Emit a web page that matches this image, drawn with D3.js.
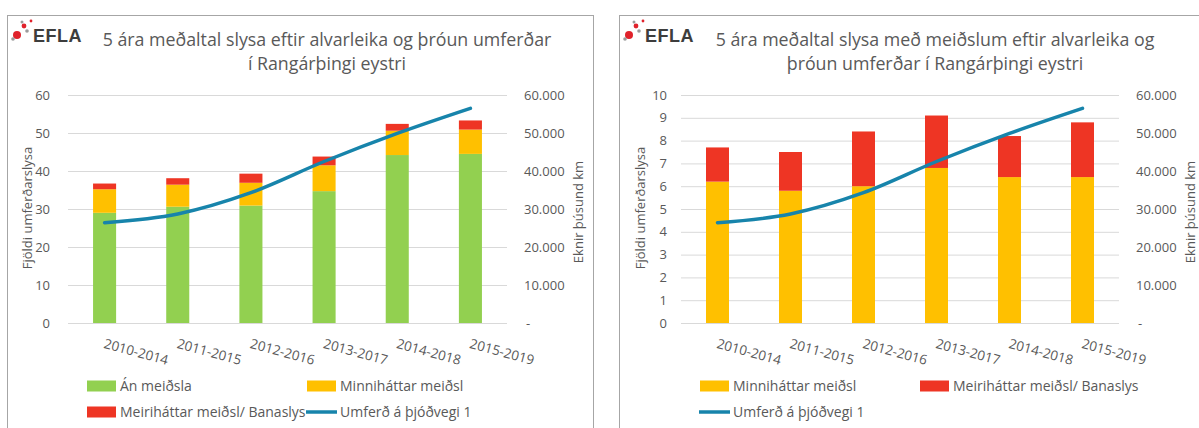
<!DOCTYPE html>
<html>
<head>
<meta charset="utf-8">
<script src="https://cdn.jsdelivr.net/npm/d3@7"></script>
<style>
  body { margin: 0; background: #fff; }
  text { font-family: 'Open Sans', sans-serif; fill: #595959; }
</style>
</head>
<body>
<svg id="chart" width="1199" height="428"></svg>
<script>
// values
const periods = ['2010-2014', '2011-2015', '2012-2016', '2013-2017', '2014-2018', '2015-2019'];
const anMeidsla = [29.0, 30.6, 30.9, 34.7, 44.2, 44.5];
const minnihattar = [6.2, 5.8, 6.0, 6.8, 6.4, 6.4];
const meirihattar = [1.5, 1.7, 2.4, 2.3, 1.8, 2.4];
const umferd = [26400, 28700, 34300, 42500, 49900, 56500];

const countTicksAll = [0, 10, 20, 30, 40, 50, 60];
const countTicksInjured = [0, 1, 2, 3, 4, 5, 6, 7, 8, 9, 10];
const kmTicks = [0, 10000, 20000, 30000, 40000, 50000, 60000];

const colors = {
  an: '#92d050',
  minni: '#ffc000',
  meiri: '#ee3524',
  line: '#1784ab'
};

const labels = {
  an: 'Án meiðsla',
  minni: 'Minniháttar meiðsl',
  meiri: 'Meiriháttar meiðsl/ Banaslys',
  line: 'Umferð á þjóðvegi 1'
};

const svg = d3.select('#chart');
const isFormat = d3.formatLocale({decimal: ',', thousands: '.', grouping: [3], currency: ['', '']}).format(',');

const rows = periods.map(function (p, i) {
  return {period: p, an: anMeidsla[i], minni: minnihattar[i], meiri: meirihattar[i], km: umferd[i]};
});

function drawLogo(g, x0, y0) {
  const dots = [
    [4, 2, 4, '#e0222b'], [0, 6, 1.8, '#9b9b9b'], [11, -7, 2.4, '#e0222b'],
    [9, -11, 1.5, '#9b9b9b'], [14, -2, 1.8, '#9b9b9b'], [18, -12, 1.4, '#e0222b']
  ];
  g.selectAll('circle.logo').data(dots).join('circle')
    .attr('class', 'logo')
    .attr('cx', d => x0 + d[0]).attr('cy', d => y0 + d[1]).attr('r', d => d[2])
    .attr('fill', d => d[3]);
  g.append('text')
    .attr('x', x0 + 20).attr('y', y0 + 9)
    .style('font-family', "'Liberation Sans', sans-serif")
    .style('font-weight', 'bold').style('font-size', '18px')
    .style('letter-spacing', '0.5px')
    .style('fill', '#3d3d3d')
    .text('EFLA');
}

function drawPanel(cfg) {
  const g = svg.append('g');
  const top = 95, bottom = 323;

  g.append('rect')
    .attr('x', cfg.boxX + 0.5).attr('y', 15.5)
    .attr('width', cfg.boxW).attr('height', 440)
    .attr('fill', 'none').attr('stroke', '#a6a6a6');

  drawLogo(g, cfg.boxX + 6, 33);

  const title = g.append('text').attr('text-anchor', 'middle').style('font-size', '17.8px');
  cfg.title.forEach(function (line, i) {
    title.append('tspan').attr('x', cfg.titleX).attr('y', 46 + i * 24).text(line);
  });

  const x = d3.scaleBand().domain(periods)
    .range([cfg.plotLeft, cfg.plotRight])
    .paddingInner(0.685).paddingOuter(0.3425);
  const y = d3.scaleLinear().domain([0, cfg.yMax]).range([bottom, top]);
  const y2 = d3.scaleLinear().domain([0, 60000]).range([bottom, top]);

  // left axis + gridlines
  const yAxis = g.append('g')
    .attr('transform', 'translate(' + cfg.plotLeft + ',0)')
    .call(d3.axisLeft(y).tickValues(cfg.yTicks)
      .tickSize(-(cfg.plotRight - cfg.plotLeft))
      .tickPadding(cfg.leftPad)
      .tickFormat(d3.format('d')));
  yAxis.select('.domain').remove();
  yAxis.selectAll('.tick line').attr('stroke', '#d9d9d9');
  yAxis.selectAll('.tick text').style('font-size', '13px');

  // right axis
  const y2Axis = g.append('g')
    .attr('transform', 'translate(' + cfg.plotRight + ',0)')
    .call(d3.axisRight(y2).tickValues(kmTicks).tickSize(0).tickPadding(17)
      .tickFormat(d => d === 0 ? '-' : isFormat(d)));
  y2Axis.select('.domain').remove();
  y2Axis.selectAll('.tick text').style('font-size', '13px');
  y2Axis.selectAll('.tick text').filter(d => d === 0).attr('x', 19);

  // category axis, slanted labels
  const xAxis = g.append('g')
    .attr('transform', 'translate(0,' + bottom + ')')
    .call(d3.axisBottom(x).tickSize(0));
  xAxis.select('.domain').remove();
  xAxis.selectAll('.tick text')
    .attr('x', 0).attr('y', 0).attr('dy', '0.75em')
    .attr('text-anchor', 'start')
    .attr('transform', 'translate(1,15) rotate(15)')
    .style('font-size', '13.5px');

  // axis titles
  g.append('text')
    .attr('transform', 'translate(' + cfg.leftTitleX + ',208) rotate(-90)')
    .attr('text-anchor', 'middle').attr('dy', '0.35em')
    .style('font-size', '13px')
    .text('Fjöldi umferðarslysa');
  g.append('text')
    .attr('transform', 'translate(' + cfg.rightTitleX + ',212) rotate(-90)')
    .attr('text-anchor', 'middle').attr('dy', '0.35em')
    .style('font-size', '13px')
    .text('Eknir þúsund km');

  // stacked bars
  const series = d3.stack().keys(cfg.keys)(rows);
  g.append('g').selectAll('g')
    .data(series)
    .join('g')
    .attr('fill', d => colors[d.key])
    .selectAll('rect')
    .data(d => d)
    .join('rect')
    .attr('x', d => x(d.data.period))
    .attr('width', x.bandwidth())
    .attr('y', d => y(d[1]))
    .attr('height', d => y(d[0]) - y(d[1]));

  // traffic line on the secondary axis
  const line = d3.line()
    .x(d => x(d.period) + x.bandwidth() / 2)
    .y(d => y2(d.km))
    .curve(d3.curveMonotoneX);
  g.append('path')
    .datum(rows)
    .attr('d', line)
    .attr('fill', 'none')
    .attr('stroke', colors.line)
    .attr('stroke-width', 3.5)
    .attr('stroke-linecap', 'round');

  // legend
  const legendRows = [386, 412];
  const legendCols = [cfg.plotLeft + 19, cfg.plotLeft + 239];
  cfg.legend.forEach(function (key, i) {
    const lx = legendCols[i % 2];
    const ly = legendRows[Math.floor(i / 2)];
    if (key === 'line') {
      g.append('line')
        .attr('x1', lx - 1).attr('x2', lx + 30)
        .attr('y1', ly).attr('y2', ly)
        .attr('stroke', colors.line).attr('stroke-width', 3.5);
    } else {
      g.append('rect')
        .attr('x', lx).attr('y', ly - 5.5)
        .attr('width', 29).attr('height', 11)
        .attr('fill', colors[key]);
    }
    g.append('text')
      .attr('x', lx + 33).attr('y', ly).attr('dy', '0.35em')
      .style('font-size', '14px')
      .text(labels[key]);
  });
}

drawPanel({
  boxX: 7, boxW: 586,
  plotLeft: 68, plotRight: 507,
  titleX: 327,
  title: ['5 ára meðaltal slysa eftir alvarleika og þróun umferðar', 'í Rangárþingi eystri'],
  yMax: 60, yTicks: countTicksAll, leftPad: 18,
  leftTitleX: 27, rightTitleX: 578,
  keys: ['an', 'minni', 'meiri'],
  legend: ['an', 'minni', 'meiri', 'line']
});

drawPanel({
  boxX: 619, boxW: 600,
  plotLeft: 681, plotRight: 1119,
  titleX: 935,
  title: ['5 ára meðaltal slysa með meiðslum eftir alvarleika og', 'þróun umferðar í Rangárþingi eystri'],
  yMax: 10, yTicks: countTicksInjured, leftPad: 14,
  leftTitleX: 640, rightTitleX: 1190,
  keys: ['minni', 'meiri'],
  legend: ['minni', 'meiri', 'line']
});
</script>
</body>
</html>
